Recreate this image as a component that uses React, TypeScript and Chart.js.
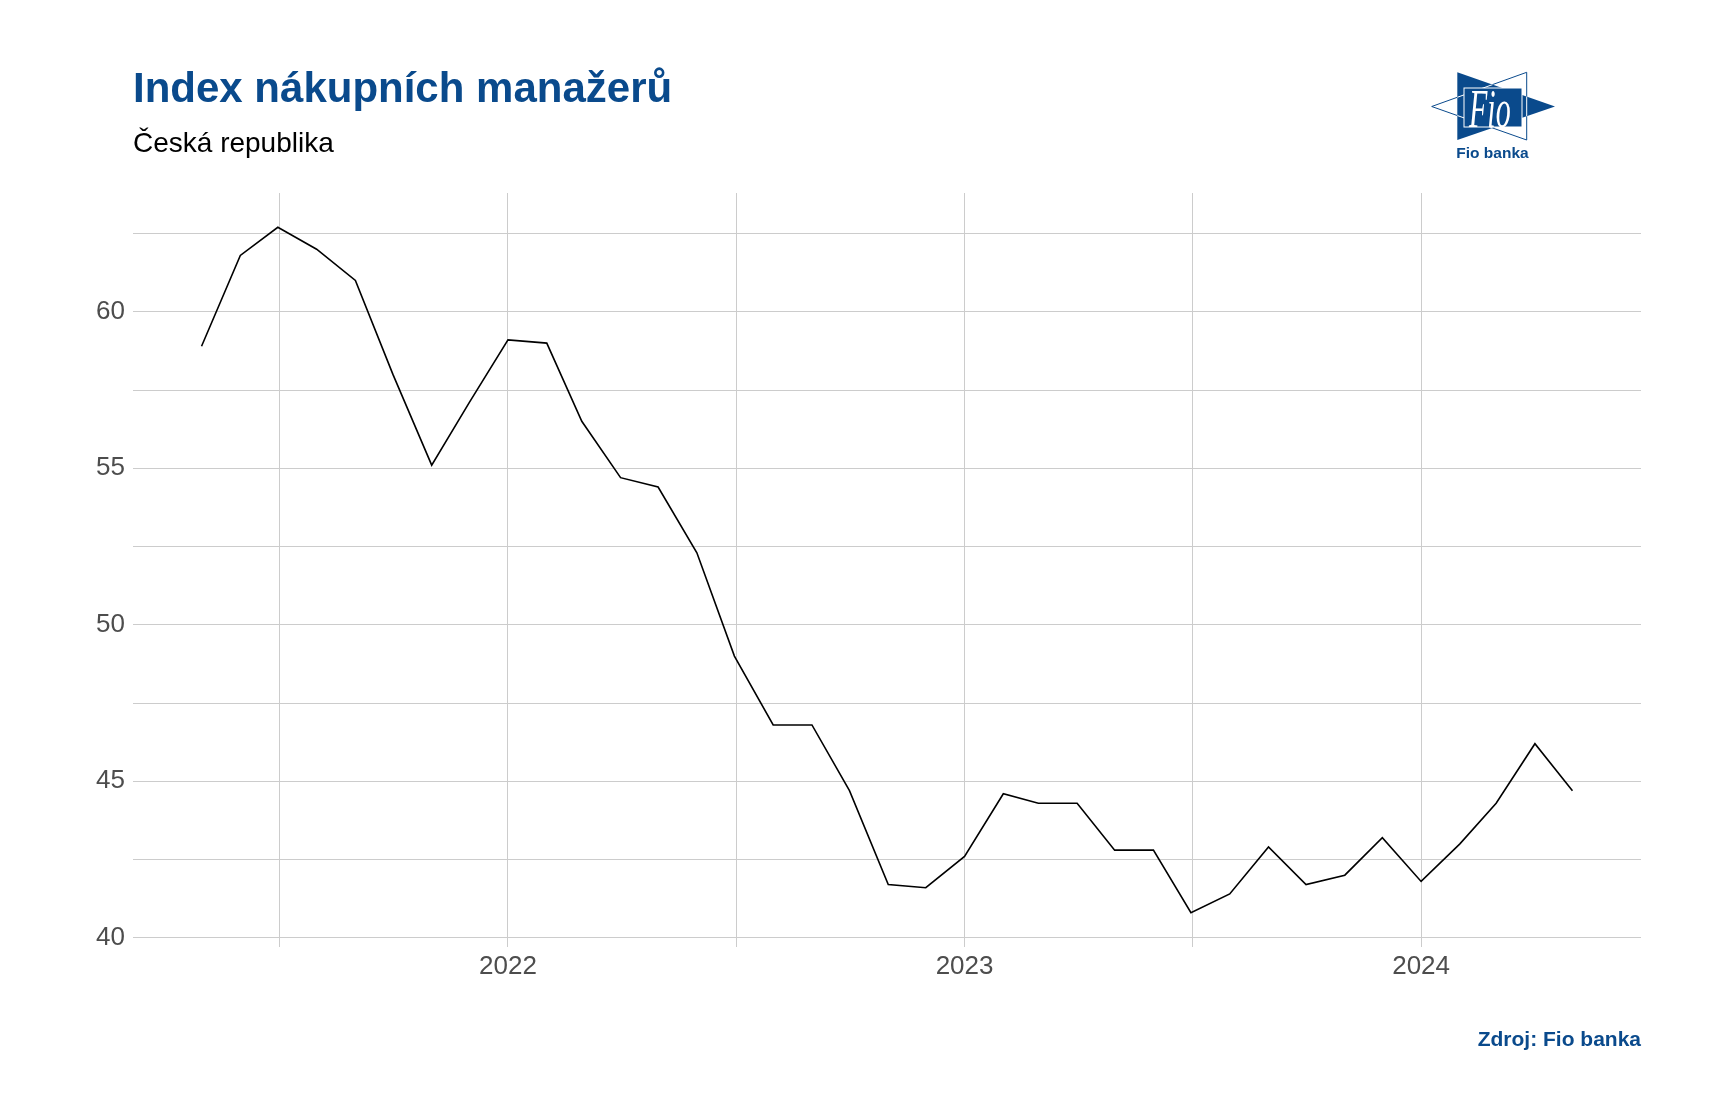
import React, { useEffect, useRef } from "react";
import { Chart, registerables } from "chart.js";

Chart.register(...registerables);

const months: string[] = [
  "2021-05", "2021-06", "2021-07", "2021-08", "2021-09", "2021-10", "2021-11", "2021-12",
  "2022-01", "2022-02", "2022-03", "2022-04", "2022-05", "2022-06", "2022-07", "2022-08",
  "2022-09", "2022-10", "2022-11", "2022-12", "2023-01", "2023-02", "2023-03", "2023-04",
  "2023-05", "2023-06", "2023-07", "2023-08", "2023-09", "2023-10", "2023-11", "2023-12",
  "2024-01", "2024-02", "2024-03", "2024-04", "2024-05",
];

const pmiValues: number[] = [
  58.9, 61.8, 62.7, 62.0, 61.0, 58.0, 55.1, 57.1,
  59.1, 59.0, 56.5, 54.7, 54.4, 52.3, 49.0, 46.8,
  46.8, 44.7, 41.7, 41.6, 42.6, 44.6, 44.3, 44.3,
  42.8, 42.8, 40.8, 41.4, 42.9, 41.7, 42.0, 43.2,
  41.8, 43.0, 44.3, 46.2, 44.7,
];

// grid breaks: "YYYY-H" = mid-year (midpoint between 1 Jan of two years), "YYYY" = 1 Jan
const xGridBreaks: string[] = ["2021-H", "2022", "2022-H", "2023", "2023-H", "2024"];
const xTickLabels: string[] = ["", "2022", "", "2023", "", "2024"];

const yGridValues: number[] = [40, 42.5, 45, 47.5, 50, 52.5, 55, 57.5, 60, 62.5];
const yTickLabels: string[] = ["40", "", "45", "", "50", "", "55", "", "60", ""];

const TITLE = "Index nákupních manažerů";
const SUBTITLE = "Česká republika";
const SOURCE = "Zdroj: Fio banka";

const BLUE = "#0a4a8c";
const FONT = "'Liberation Sans', Arial, Helvetica, sans-serif";

const ts = (s: string) => {
  const [y, m] = s.split("-").map(Number);
  return Date.UTC(y, m - 1, 1);
};

const breakTs = (b: string) => {
  const y = parseInt(b, 10);
  if (b.endsWith("-H")) return (Date.UTC(y, 0, 1) + Date.UTC(y + 1, 0, 1)) / 2;
  return Date.UTC(y, 0, 1);
};

export default function App() {
  const ref = useRef<HTMLCanvasElement | null>(null);

  useEffect(() => {
    if (!ref.current) return;
    const xs = months.map(ts);
    const xRange = xs[xs.length - 1] - xs[0];
    const xMin = xs[0] - 0.05 * xRange;
    const xMax = xs[xs.length - 1] + 0.05 * xRange;
    const vMin = Math.min(...pmiValues);
    const vMax = Math.max(...pmiValues);
    const yPad = 0.05 * (vMax - vMin);
    const xGridTs = xGridBreaks.map(breakTs);

    const chart = new Chart(ref.current, {
      type: "line",
      data: {
        datasets: [
          {
            data: months.map((m, i) => ({ x: ts(m), y: pmiValues[i] })),
            borderColor: "#000000",
            borderWidth: 1.6,
            pointRadius: 0,
            tension: 0,
            fill: false,
          },
        ],
      },
      options: {
        animation: false,
        responsive: false,
        layout: { padding: { left: 0, right: 70, top: 193, bottom: 113 } },
        plugins: { legend: { display: false }, tooltip: { enabled: false } },
        scales: {
          x: {
            type: "linear",
            min: xMin,
            max: xMax,
            afterBuildTicks: (scale: any) => {
              scale.ticks = xGridTs.map((v) => ({ value: v }));
            },
            afterFit: (scale: any) => {
              scale.height = 60;
            },
            ticks: {
              autoSkip: false,
              maxRotation: 0,
              padding: 4,
              color: "#4d4d4d",
              font: { family: FONT, size: 26 },
              callback: (value: any) => {
                const idx = xGridTs.indexOf(Number(value));
                return idx >= 0 ? xTickLabels[idx] : "";
              },
            },
            grid: { color: "#cccccc", lineWidth: 1, drawTicks: false },
            border: { display: false },
          },
          y: {
            type: "linear",
            min: vMin - yPad,
            max: vMax + yPad,
            afterBuildTicks: (scale: any) => {
              scale.ticks = yGridValues.map((v) => ({ value: v }));
            },
            afterFit: (scale: any) => {
              scale.width = 133;
            },
            ticks: {
              autoSkip: false,
              padding: 8,
              color: "#4d4d4d",
              font: { family: FONT, size: 26 },
              callback: (value: any) => {
                const idx = yGridValues.indexOf(Number(value));
                return idx >= 0 ? yTickLabels[idx] : "";
              },
            },
            grid: { color: "#cccccc", lineWidth: 1, drawTicks: false },
            border: { display: false },
          },
        },
      },
    } as any);
    return () => chart.destroy();
  }, []);

  return (
    <div style={{ position: "absolute", left: 0, top: 0, width: 1711, height: 1120, background: "#ffffff", overflow: "hidden" }}>
      <canvas ref={ref} width={1711} height={1120} style={{ position: "absolute", left: 0, top: 0, width: 1711, height: 1120 }} />
      <div style={{ position: "absolute", left: 133, top: 67, fontFamily: FONT, fontWeight: 700, fontSize: 42, lineHeight: 1, color: BLUE, whiteSpace: "nowrap" }}>
        {TITLE}
      </div>
      <div style={{ position: "absolute", left: 133, top: 129, fontFamily: FONT, fontSize: 28, lineHeight: 1, color: "#000000", whiteSpace: "nowrap" }}>
        {SUBTITLE}
      </div>
      <div style={{ position: "absolute", right: 70, top: 1028, fontFamily: FONT, fontWeight: 700, fontSize: 21, lineHeight: 1, color: BLUE, whiteSpace: "nowrap" }}>
        {SOURCE}
      </div>
      <svg style={{ position: "absolute", left: 1420, top: 60, width: 150, height: 110 }} width={150} height={110} viewBox="1420 60 150 110">
        <defs>
          <clipPath id="blueTri">
            <polygon points="1457.3,72.3 1457.3,140 1555,106.5" />
          </clipPath>
        </defs>
        <polygon points="1431.7,106.5 1526.7,72.3 1526.7,140" fill="#ffffff" stroke={BLUE} strokeWidth={1} />
        <polygon points="1457.3,72.3 1457.3,140 1555,106.5" fill={BLUE} />
        <polygon points="1431.7,106.5 1526.7,72.3 1526.7,140" fill="none" stroke="#ffffff" strokeWidth={1} clipPath="url(#blueTri)" />
        <rect x={1464} y={88} width={58} height={39} fill={BLUE} stroke="#ffffff" strokeWidth={1} />
        <g transform="translate(1469,126.5) scale(1,1.8)">
          <text x={0} y={0} fill="#ffffff" fontFamily="'Liberation Serif', 'DejaVu Serif', serif" fontStyle="italic" fontSize={30}>Fio</text>
        </g>
        <text x={1492.5} y={158} textAnchor="middle" fill={BLUE} fontFamily={FONT} fontWeight={700} fontSize={15.5}>Fio banka</text>
      </svg>
    </div>
  );
}
